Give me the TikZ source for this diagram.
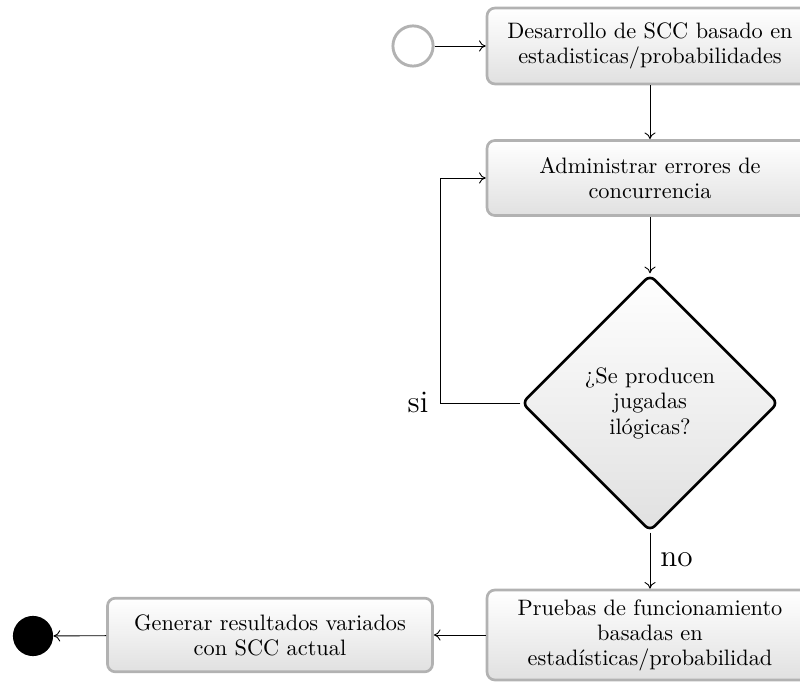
\documentclass[tikz,border=0pt]{standalone}
\usepackage{fontspec}
\usetikzlibrary{shapes.geometric,arrows.meta}
\begin{document}
\begin{tikzpicture}[x=0.448pt,y=-0.448pt,
  box/.style={rectangle, rounded corners=3.5pt, draw=black!30, line width=1.2pt,
    top color=white, bottom color=black!12, minimum width=146pt, align=center,
    inner sep=2pt, font=\fontsize{10}{11.2}\selectfont},
  dec/.style={diamond, aspect=1, rounded corners=3pt, draw=black, line width=1.2pt,
    top color=white, bottom color=black!12, minimum width=115pt, minimum height=115pt,
    align=center, inner sep=0pt, font=\fontsize{10}{11.4}\selectfont},
  startc/.style={circle, draw=black!30, line width=1.3pt, fill=white, minimum size=18pt, inner sep=0pt},
  endc/.style={circle, fill=black, minimum size=18pt, inner sep=0pt},
  conn/.style={-{To[length=3pt,width=5pt]}, line width=0.4pt},
  lbl/.style={font=\fontsize{14}{16}\selectfont, inner sep=0pt}]
\clip (0,0) rectangle (800,682);

\node[startc] (st) at (413,46) {};
\node[box, minimum height=34pt] (b1) at (650,46) {Desarrollo de SCC basado en\\estadisticas/probabilidades};
\node[box, minimum height=33.6pt] (b2) at (650,178) {Administrar errores de\\concurrencia};
\node[dec] (d) at (650,403) {¿Se producen\\jugadas\\ilógicas?};
\node[box, minimum height=40.3pt] (b3) at (650,635) {Pruebas de funcionamiento\\basadas en\\estadísticas/probabilidad};
\node[box, minimum width=145.6pt, minimum height=33pt] (b4) at (270,635) {Generar resultados variados\\con SCC actual};
\node[endc] (en) at (33,636) {};

\coordinate (lp) at (440,403);
\node[lbl, anchor=base] (si) at (418,413) {si};
\node[lbl, anchor=base west] (no) at (660,567) {no};

\draw[conn] (st) -- (b1);
\draw[conn] (b1) -- (b2);
\draw[conn] (b2) -- (d);
\draw[conn] (d.west) -- (lp) |- (b2.west);
\draw[conn] (d) -- (b3);
\draw[conn] (b3) -- (b4);
\draw[conn] (b4) -- (en);
\end{tikzpicture}
\end{document}
